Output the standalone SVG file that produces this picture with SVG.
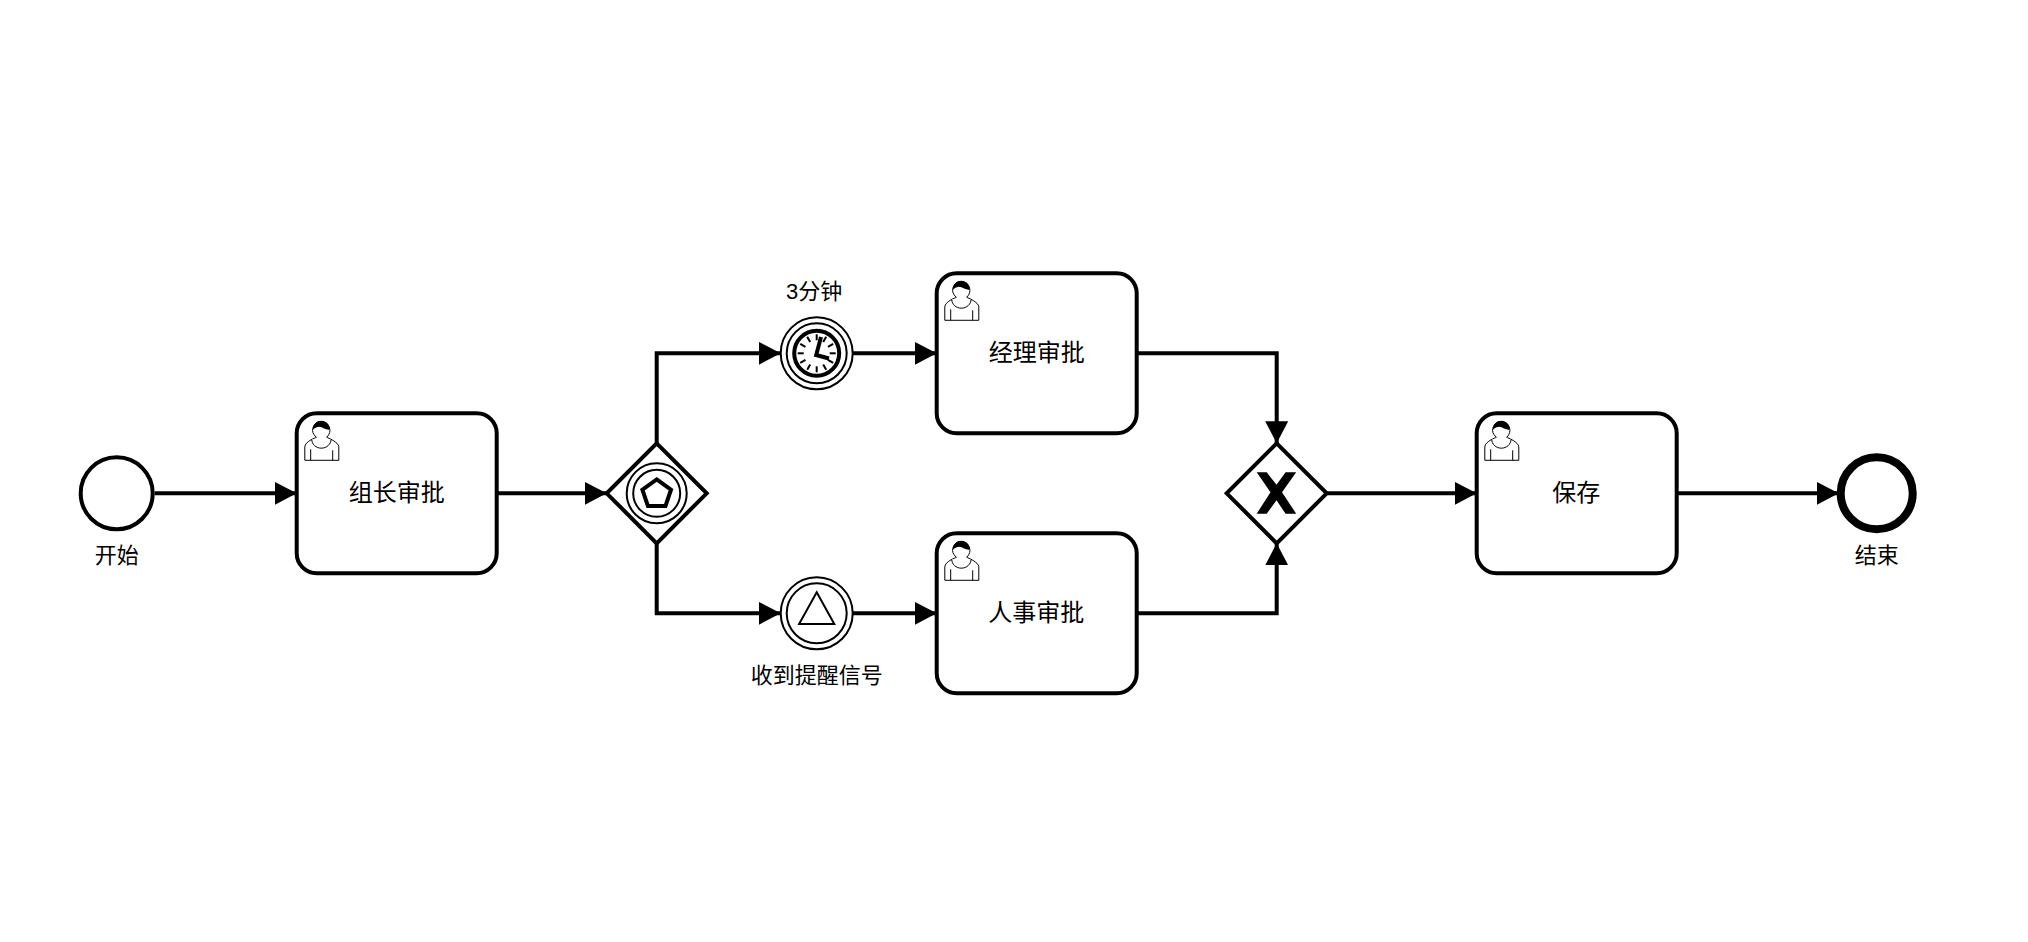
<svg xmlns="http://www.w3.org/2000/svg" width="2028" height="942" viewBox="0 0 2028 942">
<style>
.task{fill:#fff;stroke:#000;stroke-width:4}
.ev{fill:#fff;stroke:#000;stroke-width:4}
.ring{fill:none;stroke:#000;stroke-width:2}
.gw{fill:#fff;stroke:#000;stroke-width:4;stroke-linejoin:miter}
.flow{fill:none;stroke:#000;stroke-width:4;marker-end:url(#arrow)}
text{font-family:"Liberation Sans","Noto Sans CJK SC",sans-serif;fill:#000;text-anchor:middle}
.t24{font-size:24px}
.t22{font-size:22px}
</style>
<defs>
<marker id="arrow" markerUnits="userSpaceOnUse" viewBox="0 0 22 24" markerWidth="22" markerHeight="24" refX="22" refY="12" orient="auto">
<path d="M0 0.500L22 12L0 23.500Z" fill="#000"/>
</marker>
<g id="user">
<path d="m15,12c0.909,-0.845 1.594,-2.049 1.594,-3.385 0,-2.554 -1.805,-4.622 -4.357,-4.622 -2.552,0 -4.288,2.068 -4.288,4.622 0,1.348 0.974,2.562 1.896,3.405 -0.529,0.187 -5.669,2.097 -5.794,4.756v6.718h17v-6.718c0,-2.298 -5.528,-4.595 -6.051,-4.776z m-8,6l0,5.500m11,0l0,-5" fill="#fff" stroke="#000" stroke-width="0.5"/>
<path d="m15,12m2.162,1.009c0,2.447 -2.158,4.431 -4.821,4.431 -2.665,0 -4.822,-1.981 -4.822,-4.431" fill="#fff" stroke="#000" stroke-width="0.5"/>
<path d="m15,12m-6.900,-3.800c0,0 2.251,-2.358 4.274,-1.177 2.024,1.181 4.221,1.537 4.124,0.965 -0.098,-0.57 -0.117,-3.791 -4.191,-4.136 -3.575,0.001 -4.208,3.367 -4.207,4.348z" fill="#000"/>
</g>
</defs>
<rect width="2028" height="942" fill="#fff"/>
<g id="connectors">
<path class="flow" d="M154.700 493.300H296.700"/>
<path class="flow" d="M496.700 493.300H606.700"/>
<path class="flow" d="M656.700 443.300V353.300H780.700"/>
<path class="flow" d="M656.700 543.300V613.300H780.700"/>
<path class="flow" d="M852.700 353.300H936.700"/>
<path class="flow" d="M852.700 613.300H936.700"/>
<path class="flow" d="M1136.700 353.300H1276.700V443.300"/>
<path class="flow" d="M1136.700 613.300H1276.700V543.300"/>
<path class="flow" d="M1326.700 493.300H1476.700"/>
<path class="flow" d="M1676.700 493.300H1838.700"/>
</g>
<g id="start">
<circle class="ev" cx="116.700" cy="493.300" r="36"/>
<text class="t22" x="116.700" y="563">开始</text>
</g>
<g id="task1">
<rect class="task" x="296.700" y="413.300" width="200" height="160" rx="20"/>
<use href="#user" transform="translate(296.700 413.300) scale(2)"/>
<text class="t24" x="396.700" y="501">组长审批</text>
</g>
<g id="gateway1">
<path class="gw" d="M656.700 443.300L706.700 493.300L656.700 543.300L606.700 493.300Z"/>
<circle class="ring" cx="656.700" cy="493.300" r="30"/>
<circle class="ring" cx="656.700" cy="493.300" r="23.500"/>
<path d="M656.700 479.400L671 489.700L665.500 506H647.900L642.400 489.700Z" fill="none" stroke="#000" stroke-width="4"/>
</g>
<g id="timer">
<circle class="ev" style="stroke-width:2" cx="816.700" cy="353.300" r="36"/>
<circle class="ring" cx="816.700" cy="353.300" r="30"/>
<circle fill="#fff" stroke="#000" stroke-width="4" cx="816.700" cy="353.300" r="22.500"/>
<g stroke="#000" stroke-width="2">
<path d="M816.700 334.300V340.300"/>
<path d="M816.700 334.300V340.300" transform="rotate(30 816.700 353.300)"/>
<path d="M816.700 334.300V340.300" transform="rotate(60 816.700 353.300)"/>
<path d="M816.700 334.300V340.300" transform="rotate(90 816.700 353.300)"/>
<path d="M816.700 334.300V340.300" transform="rotate(120 816.700 353.300)"/>
<path d="M816.700 334.300V340.300" transform="rotate(150 816.700 353.300)"/>
<path d="M816.700 334.300V340.300" transform="rotate(180 816.700 353.300)"/>
<path d="M816.700 334.300V340.300" transform="rotate(210 816.700 353.300)"/>
<path d="M816.700 334.300V340.300" transform="rotate(240 816.700 353.300)"/>
<path d="M816.700 334.300V340.300" transform="rotate(270 816.700 353.300)"/>
<path d="M816.700 334.300V340.300" transform="rotate(300 816.700 353.300)"/>
<path d="M816.700 334.300V340.300" transform="rotate(330 816.700 353.300)"/>
</g>
<path d="M821 337L816.200 355L829 358.500" fill="none" stroke="#000" stroke-width="4"/>
<text class="t22" x="814.200" y="299">3分钟</text>
</g>
<g id="signal">
<circle class="ev" style="stroke-width:2" cx="816.700" cy="613.300" r="36"/>
<circle class="ring" cx="816.700" cy="613.300" r="30"/>
<path d="M816.700 592.300L834.300 624H799.100Z" fill="none" stroke="#000" stroke-width="2"/>
<text class="t22" x="816.700" y="683">收到提醒信号</text>
</g>
<g id="task2">
<rect class="task" x="936.700" y="273.300" width="200" height="160" rx="20"/>
<use href="#user" transform="translate(936.700 273.300) scale(2)"/>
<text class="t24" x="1036.700" y="361">经理审批</text>
</g>
<g id="task3">
<rect class="task" x="936.700" y="533.300" width="200" height="160" rx="20"/>
<use href="#user" transform="translate(936.700 533.300) scale(2)"/>
<text class="t24" x="1036.200" y="621">人事审批</text>
</g>
<g id="gateway2">
<path class="gw" d="M1276.700 443.300L1326.700 493.300L1276.700 543.300L1226.700 493.300Z"/>
<path d="M1256.700 472.300H1266.700L1276.500 484.700L1285.600 472.300H1296.200L1282 492.300L1296.200 513.700H1285.600L1276.500 500.300L1266.700 513.700H1256.700L1270.500 492.300Z" fill="#000"/>
</g>
<g id="task4">
<rect class="task" x="1476.700" y="413.300" width="200" height="160" rx="20"/>
<use href="#user" transform="translate(1476.700 413.300) scale(2)"/>
<text class="t24" x="1576.200" y="501">保存</text>
</g>
<g id="end">
<circle class="ev" style="stroke-width:8" cx="1876.700" cy="493.300" r="36"/>
<text class="t22" x="1876.700" y="563">结束</text>
</g>
</svg>
